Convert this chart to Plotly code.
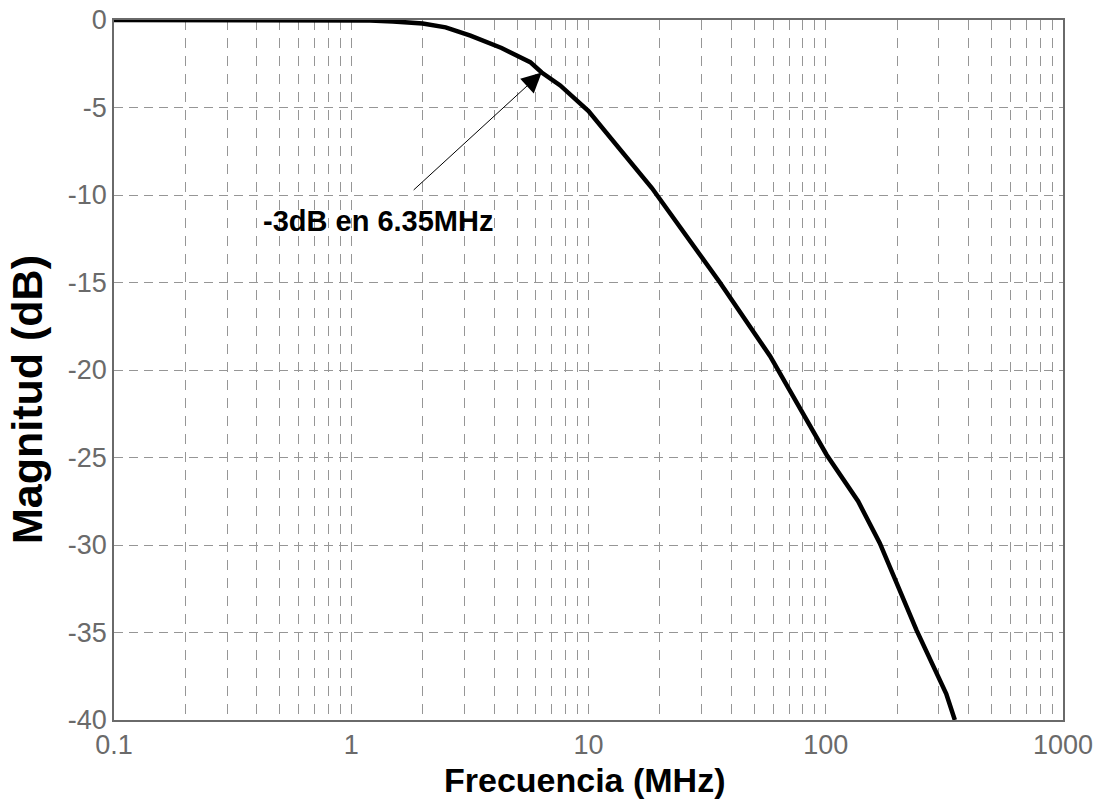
import numpy as np
import plotly.graph_objects as go

# Frequency response of the filter (magnitude in dB vs frequency in MHz)
freq_mhz = [0.1, 0.5, 1.0, 1.2, 1.5, 2.0, 2.5, 3.18, 4.3, 5.68, 6.35, 7.6, 10.0,
            18.5, 35.8, 58.2, 100.8, 136.9, 169.0, 241.0, 322.0, 350.0]
mag_db = [0.0, 0.0, 0.0, -0.03, -0.08, -0.2, -0.42, -0.89, -1.6, -2.41, -3.0, -3.74, -5.2,
          -9.6, -15.0, -19.2, -24.84, -27.5, -29.9, -34.85, -38.5, -40.0]

# -3 dB point and the label pointing to it
f_cut, db_cut = 6.35, -3.0
label_text = "-3dB en 6.35MHz"
label_pos = (1.297, -11.5)
arrow_tail = (1.806, -9.79)

x_ticks = [0.1, 1, 10, 100, 1000]
x_ticktext = ["0.1", "1", "10", "100", "1000"]
x_minor = [m * 10.0 ** e for e in range(-1, 3) for m in range(2, 10)]
y_ticks = [0, -5, -10, -15, -20, -25, -30, -35, -40]
y_ticktext = [str(v) for v in y_ticks]

FONT = "Liberation Sans, Arial, sans-serif"
GRID = "#969696"
AXIS = "#6a6a6a"

fig = go.Figure()
fig.add_trace(go.Scatter(
    x=freq_mhz, y=mag_db, mode="lines",
    line=dict(color="black", width=4.5),
    cliponaxis=False, showlegend=False, hoverinfo="x+y",
))

fig.update_xaxes(
    type="log", range=[-1, 3],
    tickmode="array", tickvals=x_ticks, ticktext=x_ticktext,
    showgrid=True, gridcolor=GRID, gridwidth=1, griddash="10px,8px",
    minor=dict(tickmode="array", tickvals=x_minor, showgrid=True,
               gridcolor=GRID, gridwidth=1, griddash="10px,8px", ticks=""),
    showline=True, linecolor=AXIS, linewidth=1.5, mirror=True,
    ticks="", ticklabelstandoff=0,
    tickfont=dict(family=FONT, size=27, color=AXIS),
    zeroline=False,
)
fig.update_yaxes(
    range=[-40, 0],
    tickmode="array", tickvals=y_ticks, ticktext=y_ticktext,
    showgrid=True, gridcolor=GRID, gridwidth=1, griddash="9px,6px",
    showline=True, linecolor=AXIS, linewidth=1.5, mirror=True,
    ticks="", ticklabelstandoff=0,
    tickfont=dict(family=FONT, size=27, color=AXIS),
    zeroline=False,
)

annotations = [
    # arrow to the cut-off point
    dict(x=np.log10(f_cut), y=db_cut, xref="x", yref="y",
         ax=np.log10(arrow_tail[0]), ay=arrow_tail[1], axref="x", ayref="y",
         text="", showarrow=True, arrowhead=2, arrowsize=4, arrowwidth=1,
         arrowcolor="black", standoff=0, startstandoff=0),
    # label text
    dict(x=np.log10(label_pos[0]), y=label_pos[1], xref="x", yref="y",
         text=label_text, showarrow=False, xanchor="center", yanchor="middle",
         font=dict(family=FONT, size=29, color="black", weight="bold")),
    # axis titles
    dict(x=585, y=780, xref="paper", yref="paper", text="Frecuencia (MHz)",
         showarrow=False, xanchor="center", yanchor="middle",
         font=dict(family=FONT, size=34, color="black", weight="bold")),
    dict(x=27, y=400, xref="paper", yref="paper", text="Magnitud (dB)",
         showarrow=False, xanchor="center", yanchor="middle", textangle=-90,
         font=dict(family=FONT, size=43, color="black", weight="bold")),
]

W, H = 1101, 806
ML, MR, MT, MB = 114, 38, 20, 86
pw, ph = W - ML - MR, H - MT - MB
# convert the pixel-placed axis titles to paper coordinates
for a in annotations[2:]:
    a["x"] = (a["x"] - ML) / pw
    a["y"] = 1 - (a["y"] - MT) / ph

fig.update_layout(
    width=W, height=H,
    margin=dict(l=ML, r=MR, t=MT, b=MB, autoexpand=False),
    paper_bgcolor="white", plot_bgcolor="white",
    annotations=annotations,
    font=dict(family=FONT),
)

fig.write_html("out.html")
